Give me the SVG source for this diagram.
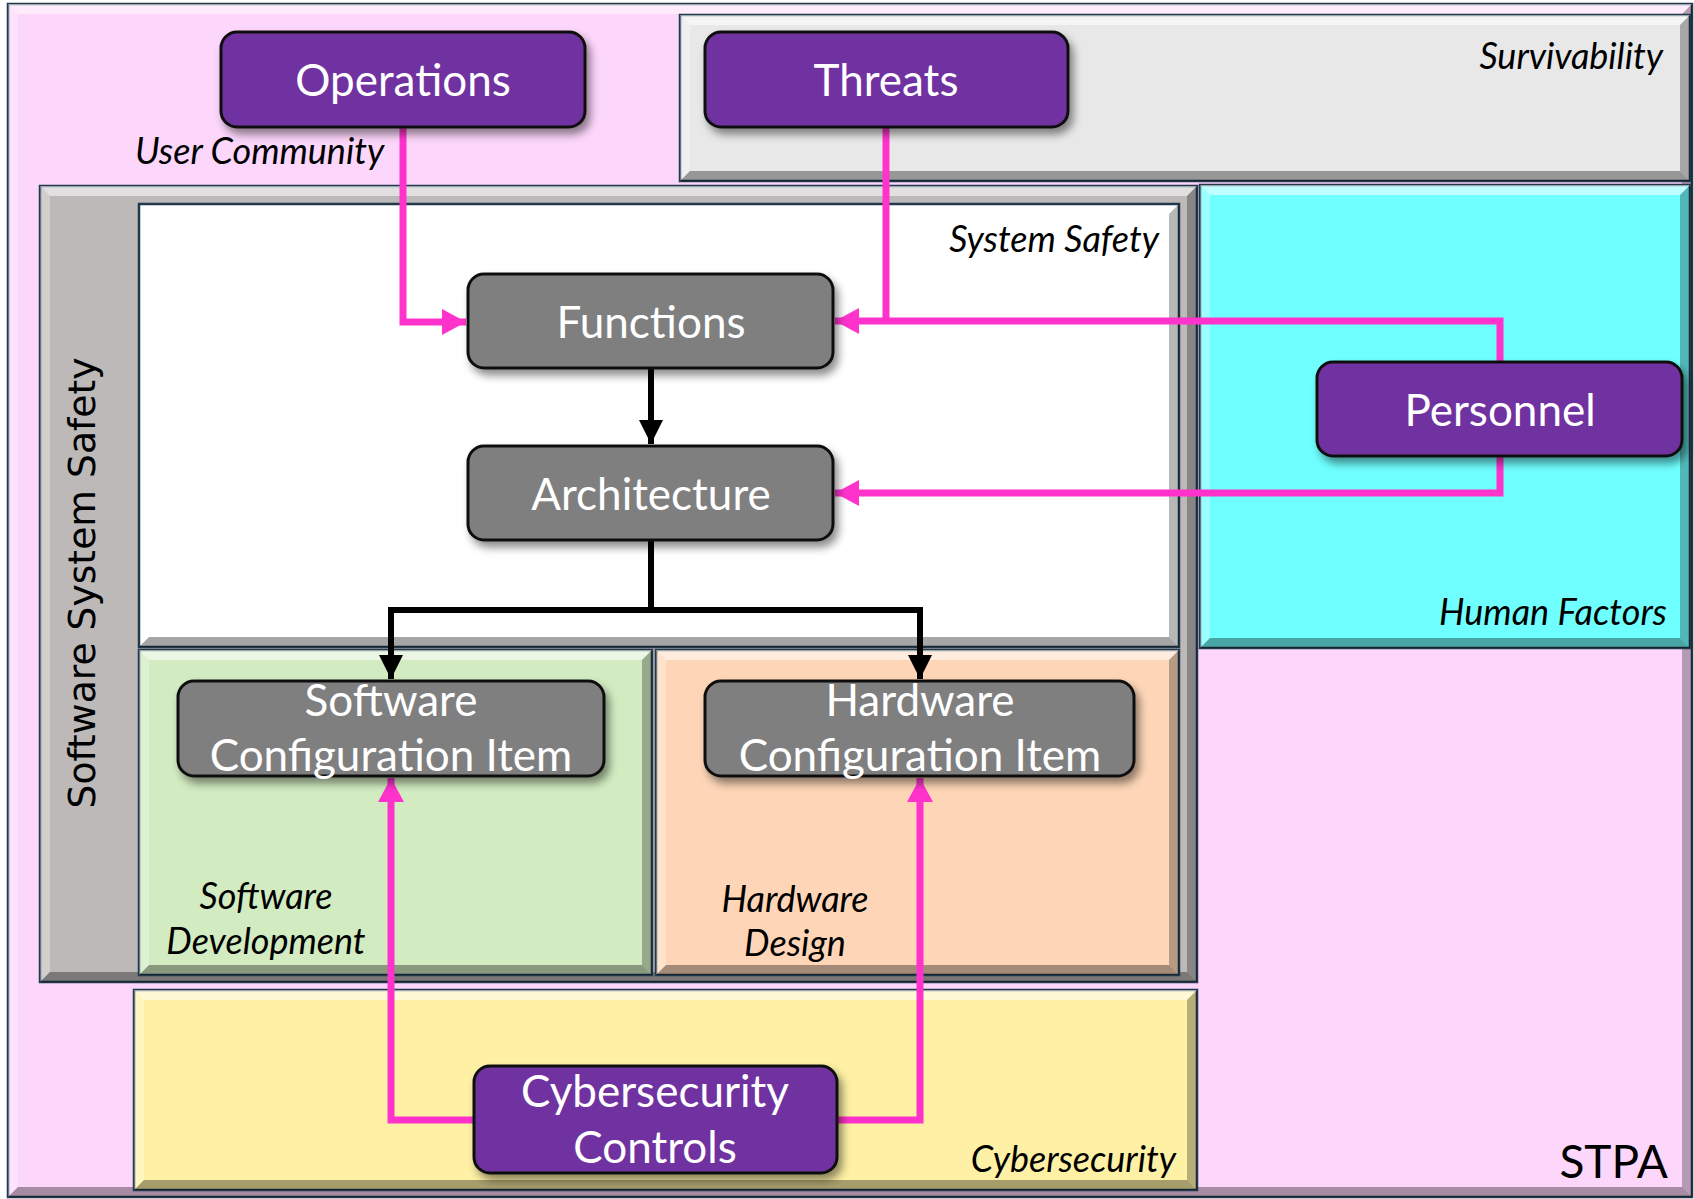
<svg xmlns="http://www.w3.org/2000/svg" width="1694" height="1199" viewBox="0 0 1694 1199">
  <style>
    .frame { stroke: #22394c; stroke-width: 2.5; }
    .hi { fill: #ffffff; opacity: 0.55; }
    .hi2 { fill: #ffffff; opacity: 0.3; }
    .lo { fill: #000000; opacity: 0.28; }
    .lo2 { fill: #000000; opacity: 0.35; }
    .node { stroke: #111111; stroke-width: 3; filter: url(#shadow); }
    .purple { fill: #7030a0; }
    .grey { fill: #7f7f7f; }
    .ntext { font-family: Lato, "Open Sans", sans-serif; font-size: 44px; fill: #ffffff; text-anchor: middle; }
    .area { font-family: Lato, "Open Sans", sans-serif; font-style: italic; font-size: 36px; fill: #000000; }
    .pink { fill: none; stroke: #ff33cc; stroke-width: 7; }
    .black { fill: none; stroke: #000000; stroke-width: 6; }
  </style>
  <defs>
    <filter id="shadow" x="-10%" y="-20%" width="130%" height="150%">
      <feDropShadow dx="4" dy="6" stdDeviation="4" flood-color="#000000" flood-opacity="0.45"/>
    </filter>
    <marker id="pinkHead" markerUnits="userSpaceOnUse" markerWidth="26" markerHeight="26" viewBox="0 0 26 26" refX="24" refY="13" orient="auto">
      <path d="M0,0 L24,13 L0,26 Z" fill="#ff33cc"/>
    </marker>
    <marker id="blackHead" markerUnits="userSpaceOnUse" markerWidth="26" markerHeight="26" viewBox="0 0 26 26" refX="24" refY="13" orient="auto">
      <path d="M0,1 L24,13 L0,25 Z" fill="#000000"/>
    </marker>
  </defs>

  <!-- STPA outer panel -->
  <g id="stpa">
    <rect x="8" y="4" width="1684" height="1193" fill="#fdd6fb" class="frame"/>
    <polygon class="hi" points="8,4 1692,4 1682,14 18,14"/>
    <polygon class="hi2" points="8,4 18,14 18,1187 8,1197"/>
    <polygon class="lo" points="1692,4 1692,1197 1682,1187 1682,14"/>
    <polygon class="lo2" points="8,1197 1692,1197 1682,1187 18,1187"/>
    <text x="1668" y="1178" font-family="Lato, 'Open Sans', sans-serif" font-size="46" text-anchor="end" fill="#000000">STPA</text>
    <text class="area" x="135" y="164">User Community</text>
  </g>

  <!-- Survivability panel -->
  <g id="survivability">
    <rect x="680" y="15" width="1010" height="166" fill="#e8e8e8" class="frame"/>
    <polygon class="hi" points="680,15 1690,15 1680,25 690,25"/>
    <polygon class="hi2" points="680,15 690,25 690,171 680,181"/>
    <polygon class="lo" points="1690,15 1690,181 1680,171 1680,25"/>
    <polygon class="lo2" points="680,181 1690,181 1680,171 690,171"/>
    <text class="area" x="1663" y="69" text-anchor="end">Survivability</text>
  </g>

  <!-- Software System Safety panel -->
  <g id="software-system-safety">
    <rect x="40" y="186" width="1157" height="796" fill="#bdb9b9" class="frame"/>
    <polygon class="hi" points="40,186 1197,186 1187,196 50,196"/>
    <polygon class="hi2" points="40,186 50,196 50,972 40,982"/>
    <polygon class="lo" points="1197,186 1197,982 1187,972 1187,196"/>
    <polygon class="lo2" points="40,982 1197,982 1187,972 50,972"/>
    <text transform="translate(95,583) rotate(-90)" font-family="'DejaVu Sans', Verdana, sans-serif" font-size="38" text-anchor="middle" textLength="451" lengthAdjust="spacingAndGlyphs" fill="#000000">Software System Safety</text>
  </g>

  <!-- System Safety panel -->
  <g id="system-safety">
    <rect x="139" y="204" width="1040" height="443" fill="#ffffff" class="frame"/>
    <polygon class="lo" points="1179,204 1179,647 1169,637 1169,214" opacity="0.2"/>
    <polygon class="lo2" points="139,647 1179,647 1169,637 149,637" opacity="0.2"/>
    <text class="area" x="1159" y="252" text-anchor="end">System Safety</text>
  </g>

  <!-- Human Factors panel -->
  <g id="human-factors">
    <rect x="1200" y="185" width="490" height="463" fill="#6fffff" class="frame"/>
    <polygon class="hi" points="1200,185 1690,185 1680,195 1210,195"/>
    <polygon class="hi2" points="1200,185 1210,195 1210,638 1200,648"/>
    <polygon class="lo" points="1690,185 1690,648 1680,638 1680,195"/>
    <polygon class="lo2" points="1200,648 1690,648 1680,638 1210,638"/>
    <text class="area" x="1667" y="625" text-anchor="end">Human Factors</text>
  </g>

  <!-- Software Development panel -->
  <g id="software-development">
    <rect x="139" y="650" width="513" height="325" fill="#d2ebc1" class="frame"/>
    <polygon class="hi" points="139,650 652,650 642,660 149,660"/>
    <polygon class="hi2" points="139,650 149,660 149,965 139,975"/>
    <polygon class="lo" points="652,650 652,975 642,965 642,660"/>
    <polygon class="lo2" points="139,975 652,975 642,965 149,965"/>
    <text class="area" x="266" y="909" text-anchor="middle">Software</text>
    <text class="area" x="266" y="954" text-anchor="middle">Development</text>
  </g>

  <!-- Hardware Design panel -->
  <g id="hardware-design">
    <rect x="656" y="650" width="523" height="325" fill="#fed6b7" class="frame"/>
    <polygon class="hi" points="656,650 1179,650 1169,660 666,660"/>
    <polygon class="hi2" points="656,650 666,660 666,965 656,975"/>
    <polygon class="lo" points="1179,650 1179,975 1169,965 1169,660"/>
    <polygon class="lo2" points="656,975 1179,975 1169,965 666,965"/>
    <text class="area" x="795" y="912" text-anchor="middle">Hardware</text>
    <text class="area" x="795" y="956" text-anchor="middle">Design</text>
  </g>

  <!-- Cybersecurity panel -->
  <g id="cybersecurity">
    <rect x="134" y="990" width="1063" height="200" fill="#fef1a5" class="frame"/>
    <polygon class="hi" points="134,990 1197,990 1187,1000 144,1000"/>
    <polygon class="hi2" points="134,990 144,1000 144,1180 134,1190"/>
    <polygon class="lo" points="1197,990 1197,1190 1187,1180 1187,1000"/>
    <polygon class="lo2" points="134,1190 1197,1190 1187,1180 144,1180"/>
    <text class="area" x="1176" y="1172" text-anchor="end">Cybersecurity</text>
  </g>

  <!-- Connectors -->
  <g id="connectors">
    <polyline class="pink" points="403,127 403,322 466,322" marker-end="url(#pinkHead)"/>
    <polyline class="pink" points="886,127 886,321"/>
    <polyline class="pink" points="1500,362 1500,321 835,321" marker-end="url(#pinkHead)"/>
    <polyline class="pink" points="1500,456 1500,493 835,493" marker-end="url(#pinkHead)"/>
    <polyline class="pink" points="474,1120 391,1120 391,778" marker-end="url(#pinkHead)"/>
    <polyline class="pink" points="837,1120 920,1120 920,778" marker-end="url(#pinkHead)"/>
    <polyline class="black" points="651,368 651,444" marker-end="url(#blackHead)"/>
    <polyline class="black" points="651,540 651,610"/>
    <polyline class="black" points="391,679 391,610 920,610 920,679" marker-end="url(#blackHead)"/>
    <polyline class="black" points="391,610 391,679" marker-end="url(#blackHead)"/>
  </g>

  <!-- Nodes -->
  <g id="operations">
    <rect class="node purple" x="221" y="32" width="364" height="95" rx="16"/>
    <text class="ntext" x="403" y="96">Operations</text>
  </g>
  <g id="threats">
    <rect class="node purple" x="705" y="32" width="363" height="95" rx="16"/>
    <text class="ntext" x="886" y="96">Threats</text>
  </g>
  <g id="functions">
    <rect class="node grey" x="468" y="274" width="365" height="94" rx="16"/>
    <text class="ntext" x="651" y="338">Functions</text>
  </g>
  <g id="architecture">
    <rect class="node grey" x="468" y="446" width="365" height="94" rx="16"/>
    <text class="ntext" x="651" y="510">Architecture</text>
  </g>
  <g id="personnel">
    <rect class="node purple" x="1317" y="362" width="365" height="94" rx="16"/>
    <text class="ntext" x="1500" y="426">Personnel</text>
  </g>
  <g id="software-ci">
    <rect class="node grey" x="178" y="681" width="426" height="95" rx="16"/>
    <text class="ntext" x="391" y="716">Software</text>
    <text class="ntext" x="391" y="771">Configuration Item</text>
  </g>
  <g id="hardware-ci">
    <rect class="node grey" x="705" y="681" width="429" height="95" rx="16"/>
    <text class="ntext" x="920" y="716">Hardware</text>
    <text class="ntext" x="920" y="771">Configuration Item</text>
  </g>
  <g id="cybersecurity-controls">
    <rect class="node purple" x="474" y="1066" width="363" height="107" rx="16"/>
    <text class="ntext" x="655" y="1107">Cybersecurity</text>
    <text class="ntext" x="655" y="1163">Controls</text>
  </g>
</svg>
